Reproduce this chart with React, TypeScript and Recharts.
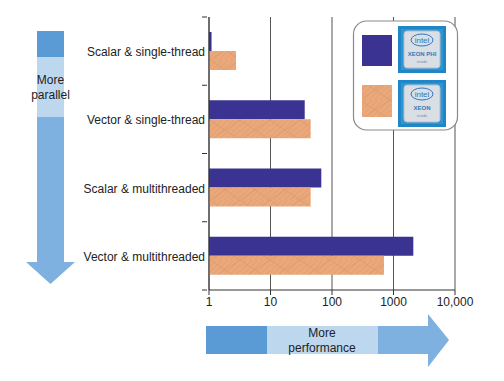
import React from 'react';
import { BarChart, Bar, XAxis, YAxis, CartesianGrid } from 'recharts';

const categories = [
  'Scalar & single-thread',
  'Vector & single-thread',
  'Scalar & multithreaded',
  'Vector & multithreaded',
];
const xeonPhi = [1.1, 36, 67, 2100];
const xeon = [2.75, 45, 45, 700];
const xTicks = [1, 10, 100, 1000, 10000];

const data = categories.map((name, i) => ({ name, phi: xeonPhi[i], xeon: xeon[i] }));

const FONT = '"Liberation Sans", Arial, sans-serif';
const BLUE = '#3a3392';
const ORANGE = '#eaa97b';

const CategoryTick = (props: any) => {
  const { x, y, payload, index } = props;
  const half = payload?.offset ?? 34;
  return (
    <g>
      <line x1={x + 1} x2={x + 6} y1={y - half} y2={y - half} stroke="#333" />
      {index === categories.length - 1 && (
        <line x1={x + 1} x2={x + 6} y1={y + half} y2={y + half} stroke="#333" />
      )}
      <text x={x + 4} y={y} dy={5} textAnchor="end" fontSize={12} fill="#222" fontFamily={FONT}>
        {payload.value}
      </text>
    </g>
  );
};

function IntelBadge({ x, y, label }: { x: number; y: number; label: string }) {
  return (
    <g>
      <rect x={x} y={y} width={48} height={47} fill="#1f86c8" />
      <rect x={x + 3} y={y + 3} width={42} height={41} fill="#3aa0da" opacity={0.6} />
      <rect x={x + 6} y={y + 5} width={36} height={37} rx={3} fill="#d9dfe4" stroke="#b5bec6" />
      <ellipse cx={x + 24} cy={y + 14} rx={11} ry={6} fill="none" stroke="#2f78c0" strokeWidth={1} />
      <text x={x + 24} y={y + 17} textAnchor="middle" fontSize={8} fill="#2f78c0" fontFamily={FONT}>
        intel
      </text>
      <text x={x + 24} y={y + 30} textAnchor="middle" fontSize={6} fontWeight="bold" fill="#3878b8" fontFamily={FONT}>
        {label}
      </text>
      <text x={x + 24} y={y + 37} textAnchor="middle" fontSize={4} fill="#6b8fb0" fontFamily={FONT}>
        inside
      </text>
    </g>
  );
}

export default function App() {
  return (
    <div style={{ position: 'absolute', left: 0, top: 0, width: 504, height: 381, background: '#fff' }}>
      <svg width={0} height={0} style={{ position: 'absolute' }}>
        <defs>
          <pattern id="fine" width={4} height={4} patternUnits="userSpaceOnUse" patternTransform="rotate(45)">
            <rect width={4} height={4} fill={ORANGE} />
            <line x1={0} y1={0} x2={0} y2={4} stroke="#df9a6b" strokeWidth={1} />
          </pattern>
          <pattern id="hatch" width={30} height={20} patternUnits="userSpaceOnUse">
            <rect width={30} height={20} fill="url(#fine)" />
            <path d="M0,0 L30,20 M30,0 L0,20" stroke="#d8926a" strokeWidth={0.8} opacity={0.7} />
          </pattern>
        </defs>
      </svg>
      <BarChart
        width={504}
        height={381}
        data={data}
        layout="vertical"
        margin={{ top: 17, right: 49, bottom: 61, left: 0 }}
        barGap={0}
        barSize={19}
      >
        <CartesianGrid horizontal={false} stroke="#555" strokeWidth={1} />
        <XAxis
          type="number"
          scale="log"
          domain={[1, 10000]}
          ticks={xTicks}
          allowDataOverflow
          height={30}
          stroke="#333"
          tickSize={5}
          tick={{ fontSize: 12, fill: '#222', fontFamily: FONT }}
          tickFormatter={(v: number) => (v === 10000 ? '10,000' : String(v))}
        />
        <YAxis
          type="category"
          dataKey="name"
          width={209}
          stroke="#333"
          tickLine={false}
          tick={<CategoryTick />}
        />
        <Bar dataKey="phi" fill={BLUE} isAnimationActive={false} />
        <Bar dataKey="xeon" fill="url(#hatch)" isAnimationActive={false} />
      </BarChart>
      <svg width={504} height={381} style={{ position: 'absolute', left: 0, top: 0, pointerEvents: 'none' }}>
        {/* legend */}
        <rect x={353.5} y={21} width={104} height={109} rx={13} fill="#fff" stroke="#8a8a8a" strokeWidth={1.2} />
        <rect x={362} y={35} width={30} height={31} fill={BLUE} />
        <rect x={362} y={85} width={30} height={32} fill="url(#hatch)" />
        <IntelBadge x={398} y={26} label="XEON PHI" />
        <IntelBadge x={398} y={80} label="XEON" />
        {/* left arrow */}
        <rect x={37} y={31} width={27} height={26} fill="#5b9bd5" />
        <rect x={37} y={57} width={27} height={60} fill="#bdd7ee" />
        <path d="M37,117 L64,117 L64,262 L75,262 L50.5,284 L26,262 L37,262 Z" fill="#7eb0e0" />
        <text x={50.5} y={84} textAnchor="middle" fontSize={12} fill="#222" fontFamily={FONT}>More</text>
        <text x={50.5} y={99} textAnchor="middle" fontSize={12} fill="#222" fontFamily={FONT}>parallel</text>
        {/* bottom arrow */}
        <rect x={206} y={326} width={61} height={28} fill="#5b9bd5" />
        <rect x={267} y={326} width={111} height={28} fill="#bdd7ee" />
        <path d="M378,326 L428,326 L428,314 L449,340 L428,367 L428,354 L378,354 Z" fill="#7eb0e0" />
        <text x={322} y={337} textAnchor="middle" fontSize={12} fill="#222" fontFamily={FONT}>More</text>
        <text x={322} y={352} textAnchor="middle" fontSize={12} fill="#222" fontFamily={FONT}>performance</text>
      </svg>
    </div>
  );
}
